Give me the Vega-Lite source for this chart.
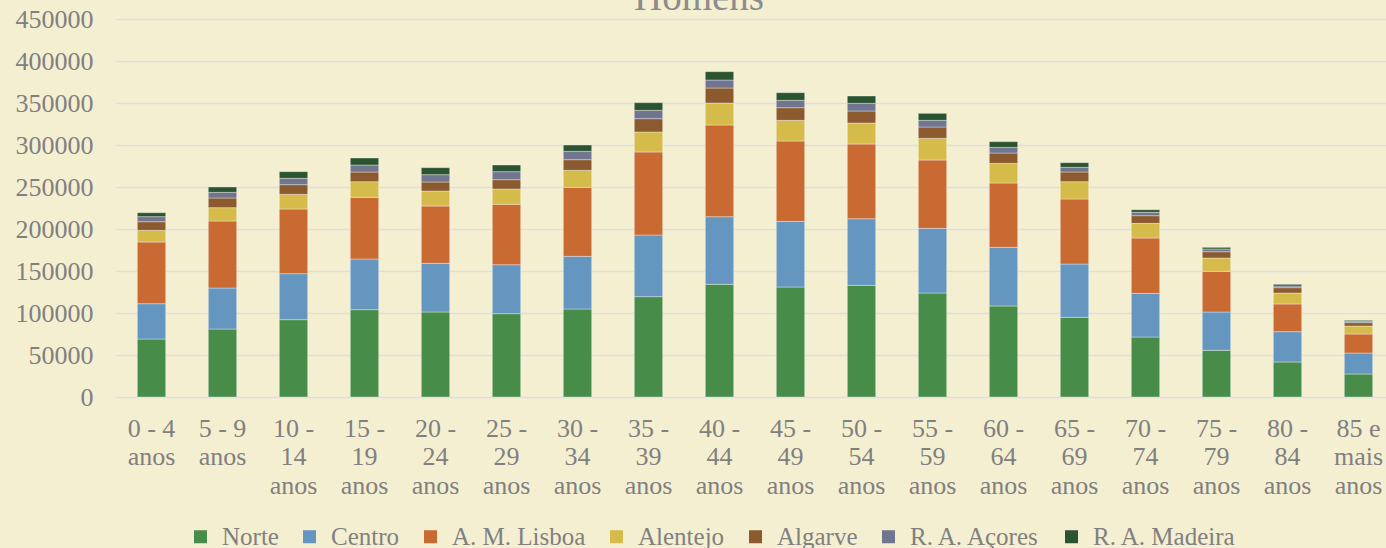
{
  "$schema": "https://vega.github.io/schema/vega-lite/v6.json",
  "autosize": {"type": "none"},
  "width": 1270,
  "height": 378,
  "padding": {"left": 116, "top": 19, "right": 0, "bottom": 151},
  "background": "#f5efd2",
  "config": {
    "view": {"stroke": null},
    "font": "Liberation Serif"
  },
  "title": {
    "text": "Homens",
    "font": "Liberation Serif",
    "fontSize": 39,
    "fontWeight": "normal",
    "color": "#8c8c8c",
    "anchor": "middle",
    "frame": "group",
    "dx": -52,
    "dy": 43,
    "baseline": "alphabetic",
    "offset": 0
  },
  "data": {"values": [
    {"i":"0 - 4 anos","r":"Norte","v":69000},{"i":"0 - 4 anos","r":"Centro","v":42100},{"i":"0 - 4 anos","r":"A. M. Lisboa","v":73400},{"i":"0 - 4 anos","r":"Alentejo","v":13900},{"i":"0 - 4 anos","r":"Algarve","v":10300},{"i":"0 - 4 anos","r":"R. A. Açores","v":6000},{"i":"0 - 4 anos","r":"R. A. Madeira","v":4700},
    {"i":"5 - 9 anos","r":"Norte","v":80900},{"i":"5 - 9 anos","r":"Centro","v":48850},{"i":"5 - 9 anos","r":"A. M. Lisboa","v":79750},{"i":"5 - 9 anos","r":"Alentejo","v":15900},{"i":"5 - 9 anos","r":"Algarve","v":11500},{"i":"5 - 9 anos","r":"R. A. Açores","v":6700},{"i":"5 - 9 anos","r":"R. A. Madeira","v":6400},
    {"i":"10 - 14 anos","r":"Norte","v":92060},{"i":"10 - 14 anos","r":"Centro","v":54750},{"i":"10 - 14 anos","r":"A. M. Lisboa","v":77000},{"i":"10 - 14 anos","r":"Alentejo","v":17450},{"i":"10 - 14 anos","r":"Algarve","v":11500},{"i":"10 - 14 anos","r":"R. A. Açores","v":7540},{"i":"10 - 14 anos","r":"R. A. Madeira","v":7940},
    {"i":"15 - 19 anos","r":"Norte","v":103960},{"i":"15 - 19 anos","r":"Centro","v":60300},{"i":"15 - 19 anos","r":"A. M. Lisboa","v":73400},{"i":"15 - 19 anos","r":"Alentejo","v":18650},{"i":"15 - 19 anos","r":"Algarve","v":11500},{"i":"15 - 19 anos","r":"R. A. Açores","v":8330},{"i":"15 - 19 anos","r":"R. A. Madeira","v":8330},
    {"i":"20 - 24 anos","r":"Norte","v":101180},{"i":"20 - 24 anos","r":"Centro","v":57930},{"i":"20 - 24 anos","r":"A. M. Lisboa","v":68250},{"i":"20 - 24 anos","r":"Alentejo","v":17860},{"i":"20 - 24 anos","r":"Algarve","v":10720},{"i":"20 - 24 anos","r":"R. A. Açores","v":8730},{"i":"20 - 24 anos","r":"R. A. Madeira","v":8330},
    {"i":"25 - 29 anos","r":"Norte","v":99200},{"i":"25 - 29 anos","r":"Centro","v":58330},{"i":"25 - 29 anos","r":"A. M. Lisboa","v":71820},{"i":"25 - 29 anos","r":"Alentejo","v":18250},{"i":"25 - 29 anos","r":"Algarve","v":11110},{"i":"25 - 29 anos","r":"R. A. Açores","v":9520},{"i":"25 - 29 anos","r":"R. A. Madeira","v":7940},
    {"i":"30 - 34 anos","r":"Norte","v":104750},{"i":"30 - 34 anos","r":"Centro","v":62700},{"i":"30 - 34 anos","r":"A. M. Lisboa","v":82140},{"i":"30 - 34 anos","r":"Alentejo","v":20230},{"i":"30 - 34 anos","r":"Algarve","v":12700},{"i":"30 - 34 anos","r":"R. A. Açores","v":9920},{"i":"30 - 34 anos","r":"R. A. Madeira","v":7540},
    {"i":"35 - 39 anos","r":"Norte","v":119440},{"i":"35 - 39 anos","r":"Centro","v":73400},{"i":"35 - 39 anos","r":"A. M. Lisboa","v":98810},{"i":"35 - 39 anos","r":"Alentejo","v":23810},{"i":"35 - 39 anos","r":"Algarve","v":15870},{"i":"35 - 39 anos","r":"R. A. Açores","v":9920},{"i":"35 - 39 anos","r":"R. A. Madeira","v":9130},
    {"i":"40 - 44 anos","r":"Norte","v":134120},{"i":"40 - 44 anos","r":"Centro","v":80550},{"i":"40 - 44 anos","r":"A. M. Lisboa","v":109120},{"i":"40 - 44 anos","r":"Alentejo","v":26190},{"i":"40 - 44 anos","r":"Algarve","v":17850},{"i":"40 - 44 anos","r":"R. A. Açores","v":9530},{"i":"40 - 44 anos","r":"R. A. Madeira","v":9920},
    {"i":"45 - 49 anos","r":"Norte","v":130940},{"i":"45 - 49 anos","r":"Centro","v":78170},{"i":"45 - 49 anos","r":"A. M. Lisboa","v":95630},{"i":"45 - 49 anos","r":"Alentejo","v":24600},{"i":"45 - 49 anos","r":"Algarve","v":15080},{"i":"45 - 49 anos","r":"R. A. Açores","v":8730},{"i":"45 - 49 anos","r":"R. A. Madeira","v":9130},
    {"i":"50 - 54 anos","r":"Norte","v":132930},{"i":"50 - 54 anos","r":"Centro","v":79360},{"i":"50 - 54 anos","r":"A. M. Lisboa","v":88880},{"i":"50 - 54 anos","r":"Alentejo","v":25000},{"i":"50 - 54 anos","r":"Algarve","v":14280},{"i":"50 - 54 anos","r":"R. A. Açores","v":9130},{"i":"50 - 54 anos","r":"R. A. Madeira","v":8730},
    {"i":"55 - 59 anos","r":"Norte","v":123800},{"i":"55 - 59 anos","r":"Centro","v":76980},{"i":"55 - 59 anos","r":"A. M. Lisboa","v":81340},{"i":"55 - 59 anos","r":"Alentejo","v":25800},{"i":"55 - 59 anos","r":"Algarve","v":13490},{"i":"55 - 59 anos","r":"R. A. Açores","v":7930},{"i":"55 - 59 anos","r":"R. A. Madeira","v":8340},
    {"i":"60 - 64 anos","r":"Norte","v":108330},{"i":"60 - 64 anos","r":"Centro","v":69830},{"i":"60 - 64 anos","r":"A. M. Lisboa","v":76580},{"i":"60 - 64 anos","r":"Alentejo","v":23420},{"i":"60 - 64 anos","r":"Algarve","v":12300},{"i":"60 - 64 anos","r":"R. A. Açores","v":6740},{"i":"60 - 64 anos","r":"R. A. Madeira","v":6750},
    {"i":"65 - 69 anos","r":"Norte","v":94840},{"i":"65 - 69 anos","r":"Centro","v":63480},{"i":"65 - 69 anos","r":"A. M. Lisboa","v":77380},{"i":"65 - 69 anos","r":"Alentejo","v":20630},{"i":"65 - 69 anos","r":"Algarve","v":11510},{"i":"65 - 69 anos","r":"R. A. Açores","v":5560},{"i":"65 - 69 anos","r":"R. A. Madeira","v":5550},
    {"i":"70 - 74 anos","r":"Norte","v":71420},{"i":"70 - 74 anos","r":"Centro","v":51980},{"i":"70 - 74 anos","r":"A. M. Lisboa","v":65870},{"i":"70 - 74 anos","r":"Alentejo","v":17460},{"i":"70 - 74 anos","r":"Algarve","v":9130},{"i":"70 - 74 anos","r":"R. A. Açores","v":3970},{"i":"70 - 74 anos","r":"R. A. Madeira","v":3170},
    {"i":"75 - 79 anos","r":"Norte","v":55550},{"i":"75 - 79 anos","r":"Centro","v":45630},{"i":"75 - 79 anos","r":"A. M. Lisboa","v":48410},{"i":"75 - 79 anos","r":"Alentejo","v":15880},{"i":"75 - 79 anos","r":"Algarve","v":7530},{"i":"75 - 79 anos","r":"R. A. Açores","v":3180},{"i":"75 - 79 anos","r":"R. A. Madeira","v":1980},
    {"i":"80 - 84 anos","r":"Norte","v":41660},{"i":"80 - 84 anos","r":"Centro","v":36110},{"i":"80 - 84 anos","r":"A. M. Lisboa","v":32930},{"i":"80 - 84 anos","r":"Alentejo","v":13100},{"i":"80 - 84 anos","r":"Algarve","v":6350},{"i":"80 - 84 anos","r":"R. A. Açores","v":1980},{"i":"80 - 84 anos","r":"R. A. Madeira","v":1990},
    {"i":"85 e mais anos","r":"Norte","v":27380},{"i":"85 e mais anos","r":"Centro","v":25000},{"i":"85 e mais anos","r":"A. M. Lisboa","v":22620},{"i":"85 e mais anos","r":"Alentejo","v":9520},{"i":"85 e mais anos","r":"Algarve","v":3970},{"i":"85 e mais anos","r":"R. A. Açores","v":1580},{"i":"85 e mais anos","r":"R. A. Madeira","v":1190}
  ]},
  "transform": [
    {"calculate": "indexof(['Norte','Centro','A. M. Lisboa','Alentejo','Algarve','R. A. Açores','R. A. Madeira'], datum.r)", "as": "ordem"}
  ],
  "mark": {"type": "bar", "stroke": "#ffffff", "strokeOpacity": 0.35, "strokeWidth": 1},
  "encoding": {
    "x": {
      "field": "i",
      "type": "nominal",
      "sort": null,
      "title": null,
      "scale": {"range": [0, 1278], "paddingInner": 0.6, "paddingOuter": 0.3},
      "axis": {
        "domain": false,
        "ticks": false,
        "labelAngle": 0,
        "labelFont": "Liberation Serif",
        "labelFontSize": 26,
        "labelColor": "#808080",
        "labelPadding": 18,
        "labelLineHeight": 28.5,
        "labelBaseline": "top",
        "labelExpr": "length(datum.value) < 11 ? [substring(datum.value,0,5), 'anos'] : datum.value == '85 e mais anos' ? ['85 e','mais','anos'] : [substring(datum.value,0,4), substring(datum.value,5,7), 'anos']"
      }
    },
    "y": {
      "field": "v",
      "type": "quantitative",
      "stack": "zero",
      "title": null,
      "scale": {"domain": [0, 450000], "nice": false},
      "axis": {
        "values": [0, 50000, 100000, 150000, 200000, 250000, 300000, 350000, 400000, 450000],
        "format": "d",
        "domain": false,
        "ticks": false,
        "labelFont": "Liberation Serif",
        "labelFontSize": 26,
        "labelColor": "#808080",
        "labelPadding": 23,
        "gridColor": "#e0dedc",
        "gridWidth": 1.3
      }
    },
    "color": {
      "field": "r",
      "type": "nominal",
      "sort": ["Norte", "Centro", "A. M. Lisboa", "Alentejo", "Algarve", "R. A. Açores", "R. A. Madeira"],
      "scale": {
        "domain": ["Norte", "Centro", "A. M. Lisboa", "Alentejo", "Algarve", "R. A. Açores", "R. A. Madeira"],
        "range": ["#488c4a", "#6596bf", "#c96a32", "#d4bb4a", "#8b5a2f", "#707590", "#2b5530"]
      },
      "legend": {
        "title": null,
        "orient": "none",
        "direction": "horizontal",
        "legendX": 72,
        "legendY": 505,
        "padding": 0,
        "columns": 7,
        "columnPadding": 18,
        "symbolType": "square",
        "symbolSize": 169,
        "symbolStrokeWidth": 0,
        "labelOffset": 9,
        "labelFont": "Liberation Serif",
        "labelFontSize": 25,
        "labelColor": "#808080"
      }
    },
    "order": {"field": "ordem", "type": "quantitative", "sort": "ascending"}
  }
}
